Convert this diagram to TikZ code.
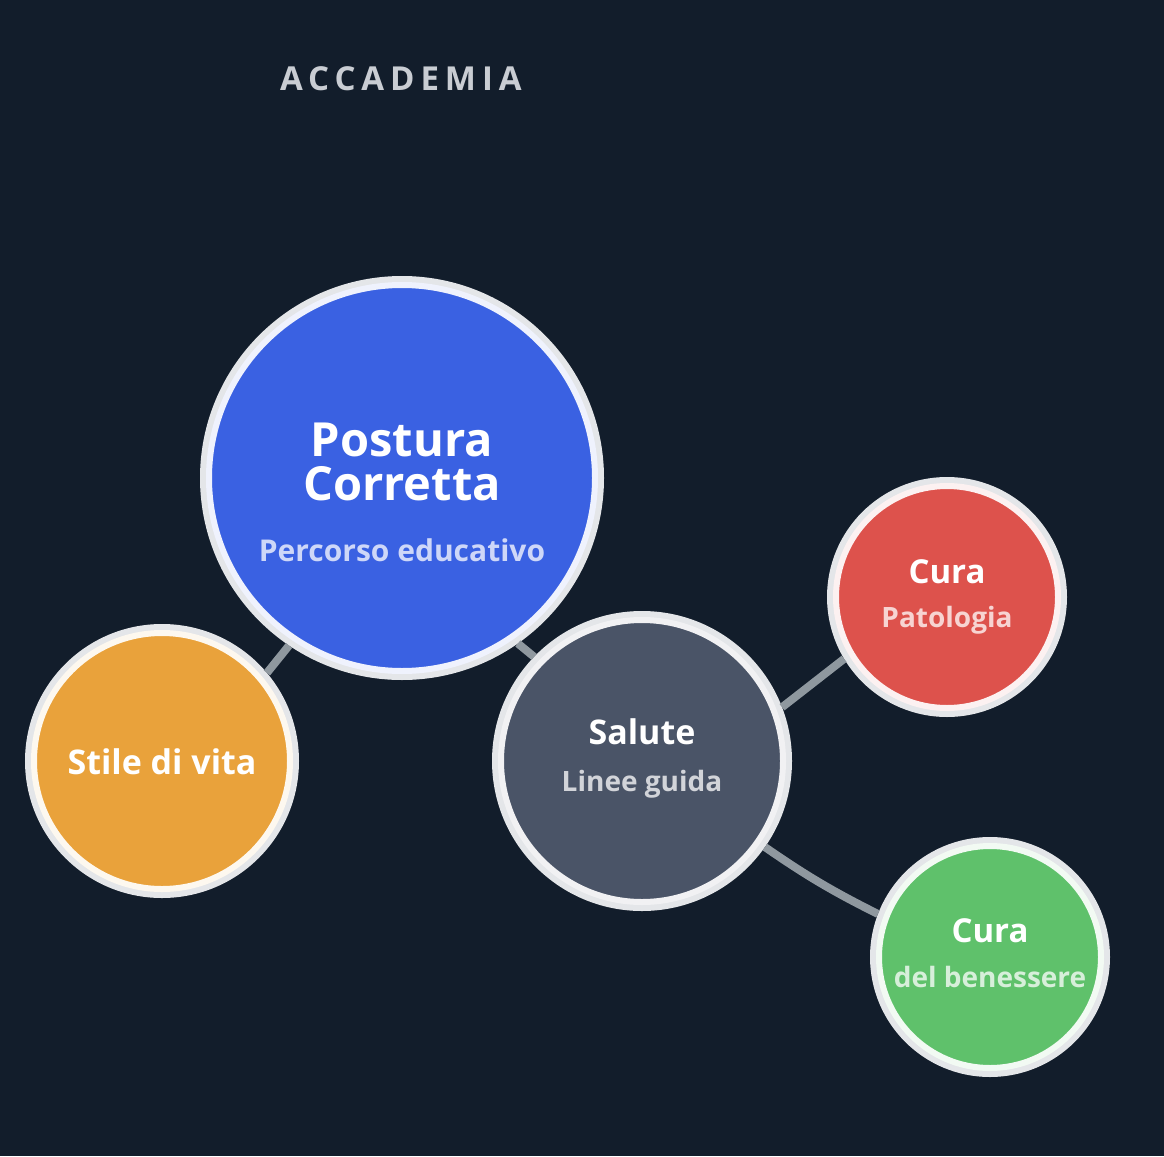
\documentclass[tikz,border=0pt]{standalone}
\usepackage{fontspec}
\setmainfont{Open Sans}
\newfontfamily\spacedfont[LetterSpace=18]{Open Sans}
\definecolor{bg}{HTML}{121D2B}
\definecolor{ring}{HTML}{E4E6E9}
\definecolor{linkgray}{HTML}{8F989F}
\definecolor{heading}{HTML}{C9CDD3}
\definecolor{blueP}{HTML}{3A61E2}
\definecolor{orangeSV}{HTML}{E9A23B}
\definecolor{grayS}{HTML}{4A5467}
\definecolor{redCP}{HTML}{DD524C}
\definecolor{greenCB}{HTML}{5FC16B}
\tikzset{
  bubble/.style 2 args={circle, inner sep=0pt, minimum size=#2, fill=#1,
    draw=#1!8!white, line width=6pt, outer sep=9pt,
    preaction={draw=ring, line width=18pt}},
  head/.style={anchor=base, inner sep=0pt, text=white, font=\bfseries\fontsize{#1}{#1}\selectfont},
  sub/.style 2 args={anchor=base, inner sep=0pt, text=white!75!#1, font=\bfseries\fontsize{#2}{#2}\selectfont},
  link/.style={draw=linkgray, line width=8pt}
}
\begin{document}
\begin{tikzpicture}[x=1pt, y=-1pt]
  \path[use as bounding box, fill=bg] (0,0) rectangle (1164,1156);
  \node[anchor=base west, inner sep=0pt, text=heading, font=\spacedfont\bfseries\fontsize{33}{33}\selectfont] (T) at (280,90) {ACCADEMIA};

  \node[bubble={blueP}{386}]    (P)  at (402,478) {};
  \node[bubble={orangeSV}{256}] (SV) at (162,761) {};
  \node[bubble={grayS}{282}]    (S)  at (642,761) {};
  \node[bubble={redCP}{222}]    (CP) at (947,597) {};
  \node[bubble={greenCB}{222}]  (CB) at (990,957) {};

  \draw[link] (P.236) -- (SV.40);
  \draw[link] (P.305) -- (S.136);
  \draw[link] (S.21) -- (CP.211);
  \draw[link] (S.325) to[bend right=4] (CB.159);

  \node[head=47] (P1)   at (402,456) {Postura};
  \node[head=47] (P2)   at (402,500) {Corretta};
  \node[sub={blueP}{30}] (Psub) at (402,561) {Percorso educativo};

  \node[head=34] (SV1)  at (162,774) {Stile di vita};

  \node[head=34] (S1)   at (642,744) {Salute};
  \node[sub={grayS}{28}] (Ssub) at (642,791) {Linee guida};

  \node[head=33] (CP1)  at (947,583) {Cura};
  \node[sub={redCP}{28}] (CPsub) at (947,627) {Patologia};

  \node[head=33] (CB1)  at (990,942) {Cura};
  \node[sub={greenCB}{28}] (CBsub) at (990,987) {del benessere};
\end{tikzpicture}
\end{document}
